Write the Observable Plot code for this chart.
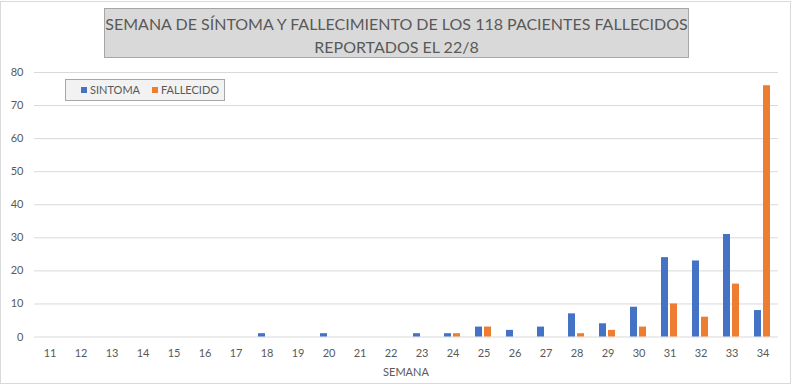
<!DOCTYPE html>
<html><head><meta charset="utf-8">
<script src="https://cdn.jsdelivr.net/npm/d3@7"></script>
<script src="https://cdn.jsdelivr.net/npm/@observablehq/plot@0.6"></script>
<style>
body{margin:0;background:#fff;font-family:Lato,"Open Sans",sans-serif;}
#wrap{position:relative;width:794px;height:386px;overflow:hidden;background:#fff}
#frame{position:absolute;left:0;top:1px;width:789px;height:381px;border:1px solid #d9d9d9;pointer-events:none}
#title{position:absolute;left:104px;top:8px;width:583px;background:#d9d9d9;border:1px solid #a6a6a6;color:#595959;font-size:16px;text-align:center;line-height:23px;padding-top:3px;box-sizing:content-box;height:45px;white-space:nowrap}
#legend{position:absolute;left:65px;top:79px;width:158px;height:20px;background:#f2f2f2;border:1px solid #a6a6a6;color:#595959;font-size:11px;line-height:20px}
#legend span.sw{position:absolute;top:7px;width:6px;height:6px}
#legend span.lb{position:absolute;top:0}
#xlabel{position:absolute;left:0;width:812px;top:365px;text-align:center;font-size:11px;color:#595959;line-height:14px}
</style></head>
<body>
<div id="wrap">
<div id="chart"></div>
<div id="title"></div>
<div id="legend"></div>
<div id="xlabel"></div>
<div id="frame"></div>
</div>
<script>
const titleLines = ["SEMANA DE SÍNTOMA Y FALLECIMIENTO DE LOS 118 PACIENTES FALLECIDOS", "REPORTADOS EL 22/8"];
const xTitle = "SEMANA";
const weeks = [11,12,13,14,15,16,17,18,19,20,21,22,23,24,25,26,27,28,29,30,31,32,33,34];
const seriesNames = ["SINTOMA", "FALLECIDO"];
const sintoma   = [0,0,0,0,0,0,0,1,0,1,0,0,1,1,3,2,3,7,4,9,24,23,31,8];
const fallecido = [0,0,0,0,0,0,0,0,0,0,0,0,0,1,3,0,0,1,2,3,10,6,16,76];
const yTicks = [0,10,20,30,40,50,60,70,80];
const colors = ["#4472c4", "#ed7d31"];

const data = [];
weeks.forEach((w, i) => {
  data.push({week: w, serie: seriesNames[0], value: sintoma[i]});
  data.push({week: w, serie: seriesNames[1], value: fallecido[i]});
});

const plot = Plot.plot({
  width: 794,
  height: 386,
  marginLeft: 33,
  marginRight: 15,
  marginTop: 72,
  marginBottom: 49.5,
  style: {fontFamily: "Lato, 'Open Sans', sans-serif", fontSize: "11px", color: "#595959", background: "#fff"},
  fx: {domain: weeks, paddingInner: 0, paddingOuter: 0, label: null},
  x: {domain: seriesNames, paddingInner: 0.22, paddingOuter: 0.83, axis: null},
  y: {domain: [0, 80], axis: null},
  color: {domain: seriesNames, range: colors},
  marks: [
    Plot.gridY(yTicks, {stroke: "#d9d9d9", strokeOpacity: 1, strokeWidth: 1}),
    Plot.axisY(yTicks, {tickSize: 0, tickPadding: 11, label: null, fill: "#595959", fontSize: 11}),
    Plot.axisFx({anchor: "bottom", tickSize: 0, tickPadding: 12, label: null, fill: "#595959", fontSize: 11}),
    Plot.barY(data, {fx: "week", x: "serie", y: "value", fill: "serie"})
  ]
});
document.getElementById("chart").appendChild(plot);

const t = document.getElementById("title");
t.innerHTML = titleLines.map(s => `<div>${s}</div>`).join("");
document.getElementById("xlabel").textContent = xTitle;
const lg = document.getElementById("legend");
const pos = [[15, 24], [86, 95]];
seriesNames.forEach((s, i) => {
  const sw = document.createElement("span"); sw.className = "sw";
  sw.style.left = pos[i][0] + "px"; sw.style.background = colors[i];
  const lb = document.createElement("span"); lb.className = "lb";
  lb.style.left = pos[i][1] + "px"; lb.textContent = s;
  lg.appendChild(sw); lg.appendChild(lb);
});
</script>
</body></html>
